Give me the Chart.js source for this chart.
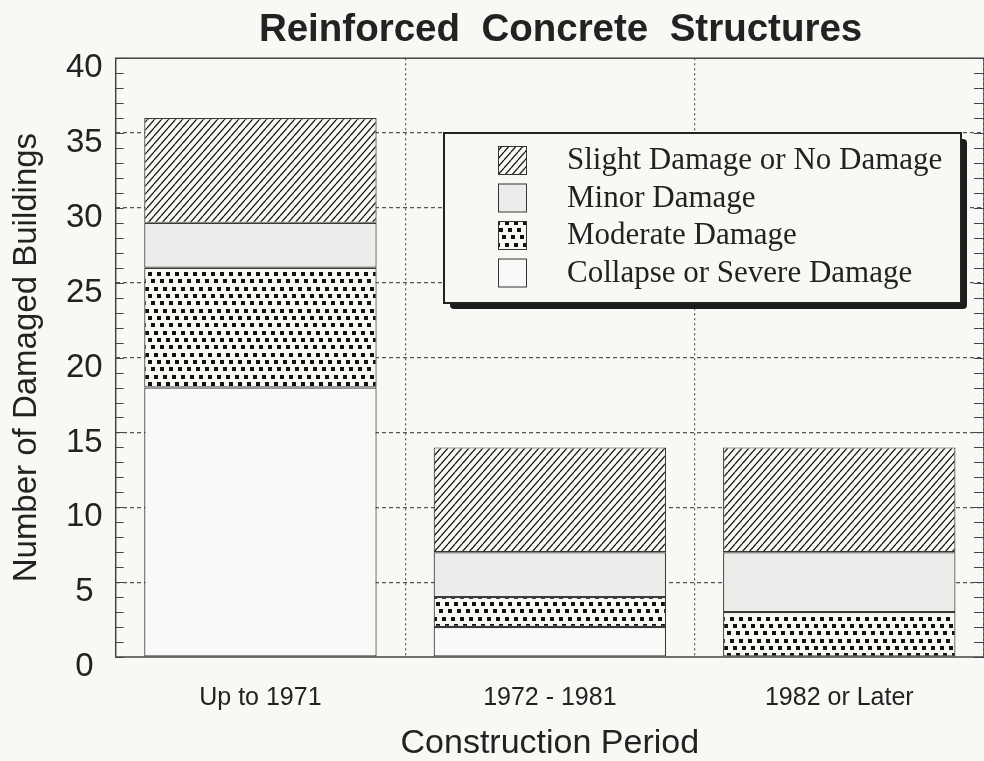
<!DOCTYPE html>
<html>
<head>
<meta charset="utf-8">
<script src="https://cdn.jsdelivr.net/npm/chart.js@4.4.1/dist/chart.umd.min.js"></script>
<style>
  html, body { margin: 0; padding: 0; background: #f8f8f5; }
  canvas { display: block; }
</style>
</head>
<body>
<canvas id="graph" width="984" height="761"></canvas>
<script>
var periods = ["Up to 1971", "1972 - 1981", "1982 or Later"];
var severe = [18, 2, 0];
var moderate = [8, 2, 3];
var minor = [3, 3, 4];
var slight = [7, 7, 7];
var yMax = 40;
var yStep = 5;

var bg = "#f8f8f5";
var ink = "#222222";

// diagonal "/" hatching
function hatchPattern() {
  var w = 7, h = 8;
  var c = document.createElement("canvas");
  c.width = w; c.height = h;
  var g = c.getContext("2d");
  g.fillStyle = bg;
  g.fillRect(0, 0, w, h);
  g.strokeStyle = "#1a1a1a";
  g.lineWidth = 1.3;
  g.beginPath();
  for (var k = -1; k <= 1; k++) {
    g.moveTo(k * w, h);
    g.lineTo(k * w + w, 0);
  }
  g.stroke();
  return g.createPattern(c, "repeat");
}

// staggered small squares, rows shifted to form "\" streaks
function dotPattern() {
  var w = 9, h = 22;
  var c = document.createElement("canvas");
  c.width = w; c.height = h;
  var g = c.getContext("2d");
  g.fillStyle = bg;
  g.fillRect(0, 0, w, h);
  g.fillStyle = "#111";
  var rows = [[1, 1], [4, 8], [7, 15]];
  rows.forEach(function (p) {
    g.fillRect(p[0], p[1], 4, 4);
    if (p[0] + 4 > w) g.fillRect(p[0] - w, p[1], 4, 4);
  });
  return g.createPattern(c, "repeat");
}

var boxLegend = {
  id: "boxLegend",
  afterDatasetsDraw: function (chart) {
    var ctx = chart.ctx;
    var L = 444, T = 133, R = 961, B = 303;
    ctx.save();
    ctx.fillStyle = "#1c1c1c";
    ctx.beginPath();
    ctx.roundRect(L + 6, T + 6, R - L, B - T, 4);
    ctx.fill();
    ctx.fillStyle = bg;
    ctx.fillRect(L, T, R - L, B - T);
    ctx.strokeStyle = "#222";
    ctx.lineWidth = 2;
    ctx.strokeRect(L, T, R - L, B - T);

    var sets = chart.data.datasets.slice().reverse();
    ctx.font = "31px 'Liberation Serif', 'Times New Roman', serif";
    ctx.textBaseline = "middle";
    ctx.textAlign = "left";
    sets.forEach(function (ds, i) {
      var top = 146 + i * 37.5;
      ctx.fillStyle = ds.backgroundColor;
      ctx.fillRect(498, top, 28, 28);
      ctx.strokeStyle = "#333";
      ctx.lineWidth = 1;
      ctx.strokeRect(498.5, top + 0.5, 28, 28);
      ctx.fillStyle = ink;
      ctx.fillText(ds.label, 567, top + 15);
    });
    ctx.restore();
  }
};

var frameTicks = {
  id: "frameTicks",
  afterDraw: function (chart) {
    var ctx = chart.ctx;
    var a = chart.chartArea;
    var y = chart.scales.y;
    ctx.save();
    ctx.strokeStyle = "#444";
    ctx.lineWidth = 1.5;
    ctx.strokeRect(a.left, a.top, a.right - a.left, a.bottom - a.top);
    ctx.lineWidth = 1.2;
    ctx.beginPath();
    for (var v = 0; v <= yMax; v++) {
      var py = Math.round(y.getPixelForValue(v)) + 0.5;
      ctx.moveTo(a.left, py);
      ctx.lineTo(a.left + 8, py);
      ctx.moveTo(a.right - 10, py);
      ctx.lineTo(a.right, py);
    }
    ctx.stroke();
    ctx.restore();
  }
};

var sans = "'Liberation Sans', Arial, Helvetica, sans-serif";

function barSet(label, data, fill) {
  return {
    label: label,
    data: data,
    backgroundColor: fill,
    borderColor: "#3a3a3a",
    borderWidth: 1.2,
    borderSkipped: false,
    barPercentage: 0.803,
    categoryPercentage: 1
  };
}

var chart = new Chart(document.getElementById("graph").getContext("2d"), {
  type: "bar",
  data: {
    labels: periods,
    datasets: [
      barSet("Collapse or Severe Damage", severe, "#f9f9f7"),
      barSet("Moderate Damage", moderate, dotPattern()),
      barSet("Minor Damage", minor, "#ececea"),
      barSet("Slight Damage or No Damage", slight, hatchPattern())
    ]
  },
  options: {
    responsive: false,
    animation: false,
    devicePixelRatio: 1,
    layout: { padding: 0 },
    plugins: {
      legend: { display: false },
      tooltip: { enabled: false },
      title: {
        display: true,
        fullSize: false,
        text: "  Reinforced  Concrete  Structures",
        color: ink,
        font: { family: sans, size: 38.5, weight: "bold" },
        padding: { top: 7, bottom: 5 }
      }
    },
    scales: {
      x: {
        stacked: true,
        offset: true,
        grid: {
          offset: true,
          drawTicks: false,
          color: function (c) {
            return c.index === 0 || c.index === periods.length ? "rgba(0,0,0,0)" : "#555";
          },
          lineWidth: 1.2
        },
        border: { display: false, dash: [2, 3] },
        ticks: { color: ink, font: { family: sans, size: 25 }, padding: 26 },
        title: {
          display: true,
          text: "Construction Period",
          color: ink,
          font: { family: sans, size: 34, lineHeight: 1 },
          padding: { top: -12, bottom: 0 }
        }
      },
      y: {
        stacked: true,
        min: 0,
        max: yMax,
        grid: {
          drawTicks: false,
          color: function (c) {
            return c.tick && (c.tick.value === 0 || c.tick.value === yMax) ? "rgba(0,0,0,0)" : "#555";
          },
          lineWidth: 1.2
        },
        border: { display: false, dash: [4, 3] },
        ticks: {
          stepSize: yStep,
          color: ink,
          font: { family: sans, size: 33 },
          padding: 13,
          crossAlign: "center",
          labelOffset: 10
        },
        title: {
          display: true,
          text: "Number of Damaged Buildings",
          color: ink,
          font: { family: sans, size: 33, lineHeight: 1 },
          padding: { top: 10, bottom: 10 }
        }
      }
    }
  },
  plugins: [boxLegend, frameTicks]
});
</script>
</body>
</html>
